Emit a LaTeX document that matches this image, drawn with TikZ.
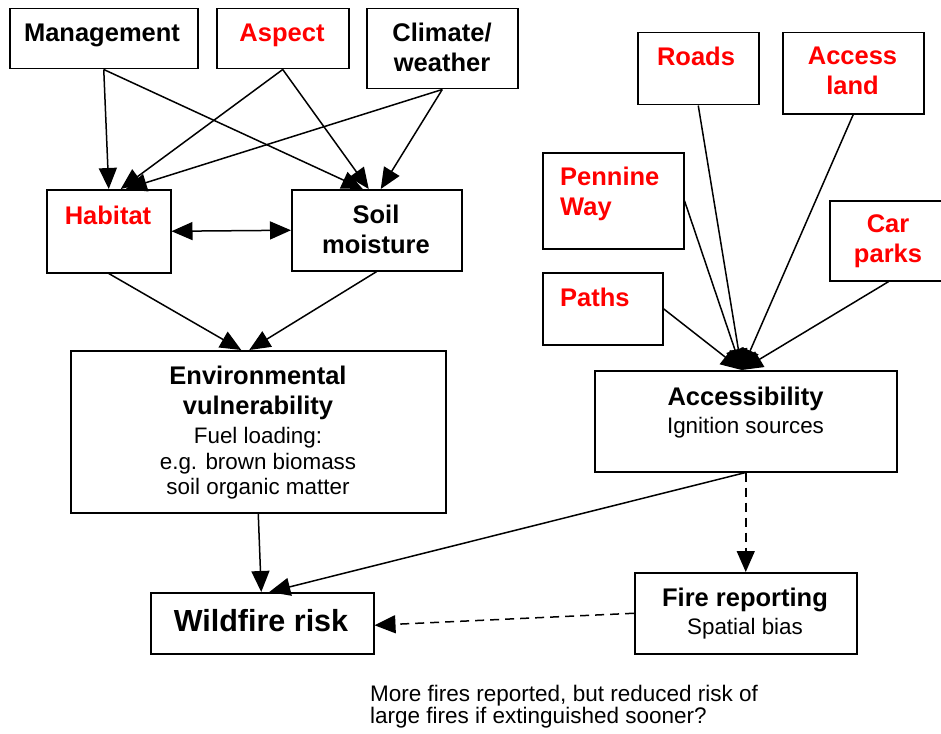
\documentclass[tikz,border=0pt]{standalone}
\usepackage{fontspec}
\setmainfont{Liberation Sans}
\usetikzlibrary{arrows.meta}
\definecolor{lblred}{RGB}{255,0,0}
\newcommand\lblb{\fontsize{25.5}{30}\selectfont\bfseries}
\newcommand\lbln{\fontsize{22.4}{25.7}\selectfont}
\newcommand\lblw{\fontsize{30.5}{34}\selectfont\bfseries}
\tikzset{
  box/.style={draw, line width=1.5pt, inner sep=0pt, anchor=north west},
  txt/.style={inner sep=0pt, anchor=base, align=center},
  bt/.style={txt, font=\lblb},
  nt/.style={txt, font=\lbln},
  red/.style={text=lblred},
  conn/.style={line width=1.5pt, -{Triangle[length=21pt,width=18pt]}},
  dconn/.style={conn, dash pattern=on 9pt off 6pt},
}
\begin{document}
\begin{tikzpicture}[x=1pt,y=-1pt]
\useasboundingbox (0,0) rectangle (941,733);
% boxes
\node[box, minimum width=188, minimum height=60] (mgmt) at (9,8) {};
\node[box, minimum width=132, minimum height=60] (asp) at (216,8) {};
\node[box, minimum width=151, minimum height=80] (clim) at (366,8) {};
\node[box, minimum width=124, minimum height=83] (hab) at (46,189) {};
\node[box, minimum width=170, minimum height=81] (soil) at (291,189) {};
\node[box, minimum width=375, minimum height=162] (env) at (70,350) {};
\node[box, minimum width=302, minimum height=101] (acc) at (594,370) {};
\node[box, minimum width=222, minimum height=81] (fire) at (634,572) {};
\node[box, minimum width=223, minimum height=61] (wild) at (150,592) {};
\node[box, minimum width=121, minimum height=72] (roads) at (637,32) {};
\node[box, minimum width=141, minimum height=81] (accl) at (782,32) {};
\node[box, minimum width=141, minimum height=96] (pen) at (542,152) {};
\node[box, minimum width=120, minimum height=72] (paths) at (542,272) {};
\node[box, minimum width=118, minimum height=80] (carp) at (829,200) {};
% labels
\node[bt] (tmgmt) at (102,42) {Management};
\node[bt, red] (tasp) at (282,42) {Aspect};
\node[bt, anchor=north] (tclim) at (442,23.3) {Climate/\\weather};
\node[bt, red] (thab) at (108,224) {Habitat};
\node[bt, anchor=north] (tsoil) at (376,204.5) {Soil\\moisture};
\node[bt, anchor=north] (tenv) at (258,365.5) {Environmental\\vulnerability};
\node[nt, anchor=north] (tenv2) at (258,427) {Fuel loading:\\e.g. brown biomass\\soil organic matter};
\node[bt] (tacc) at (745.5,405.5) {Accessibility};
\node[nt] (tacc2) at (745.5,433) {Ignition sources};
\node[bt] (tfire) at (745,606.5) {Fire reporting};
\node[nt] (tfire2) at (745,634) {Spatial bias};
\node[txt, font=\lblw] (twild) at (261,631.5) {Wildfire risk};
\node[bt, red] (troads) at (696,65.5) {Roads};
\node[bt, red, anchor=north] (taccl) at (852.5,46.5) {Access\\land};
\node[bt, red, anchor=north west, align=left] (tpen) at (560,166.5) {Pennine\\Way};
\node[bt, red, anchor=base west] (tpaths) at (560,306) {Paths};
\node[bt, red, anchor=north] (tcarp) at (888,214.5) {Car\\parks};
\node[txt, anchor=base west, align=left, font=\fontsize{22.5}{21.5}\selectfont] (tnote) at (370,723) {More fires reported, but reduced risk of\\large fires if extinguished sooner?};
% connectors
\draw[conn] (mgmt.south) -- (hab.north);
\draw[conn] (mgmt.south) -- ([xshift=-14pt]soil.north);
\draw[conn] (asp.south) -- ([xshift=12pt]hab.north);
\draw[conn] (asp.south) -- ([xshift=-8pt]soil.north);
\draw[conn] (clim.south) -- ([xshift=17pt]hab.north);
\draw[conn] (clim.south) -- ([xshift=4pt]soil.north);
\draw[conn, {Triangle[length=21pt,width=18pt]}-{Triangle[length=21pt,width=18pt]}] (hab.east) -- (soil.west);
\draw[conn] (hab.south) -- ([xshift=-17pt]env.north);
\draw[conn] (soil.south) -- ([xshift=-9pt]env.north);
\draw[conn] (env.south) -- ([xshift=-1pt]wild.north);
\draw[conn] (acc.south) -- ([xshift=7pt]wild.north);
\draw[dconn] (acc.south) -- (fire.north);
\draw[dconn] (fire.west) -- ([yshift=-2pt]wild.east);
\coordinate (hub) at ([xshift=-4pt]acc.north);
\draw[conn] (roads.south) -- (hub);
\draw[conn] (accl.south) -- (hub);
\draw[conn] (pen.east) -- (hub);
\draw[conn] (paths.east) -- (hub);
\draw[conn] (carp.south) -- (hub);
\end{tikzpicture}
\end{document}
